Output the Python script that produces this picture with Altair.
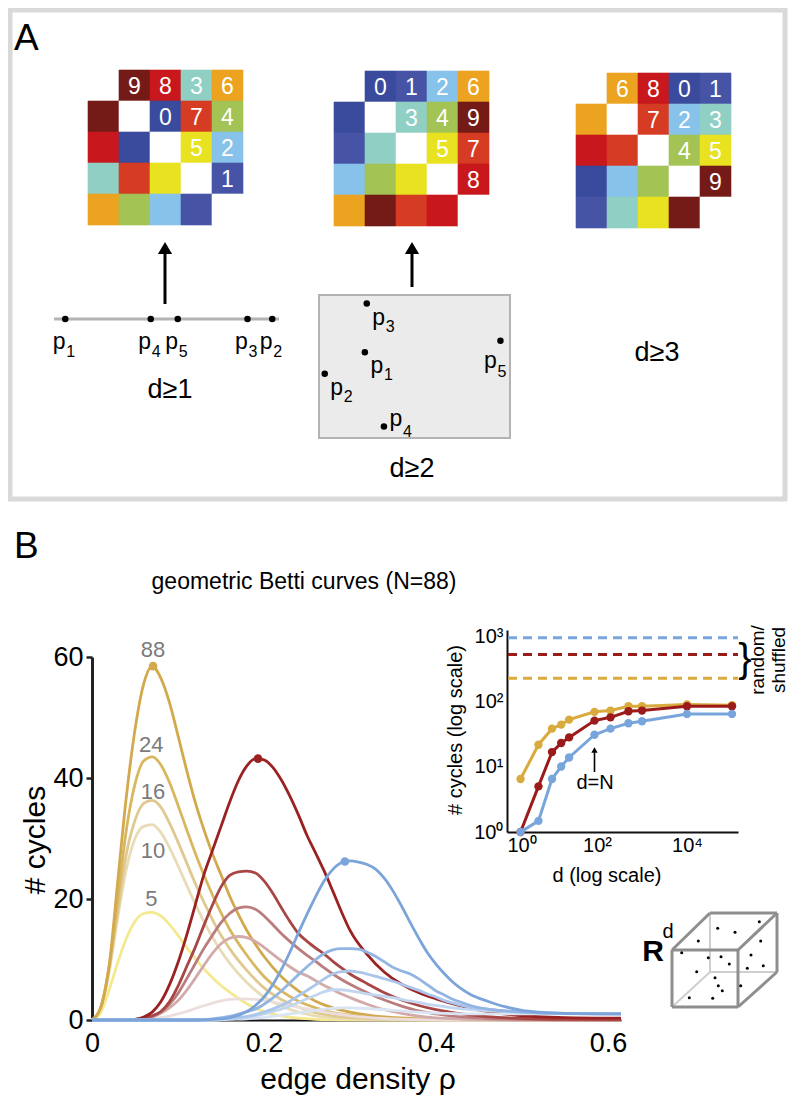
import altair as alt
import pandas as pd

FONT = "Liberation Sans"
OX, OY = 8, 8          # page margin (reference pixel -> canvas pixel)
W, H = 780, 1092

# ======================= DATA =======================
# ---- Panel A : rank-ordered distance matrices of 5 points ----
pair_i = [0, 0, 0, 0, 1, 1, 1, 2, 2, 3]
pair_j = [1, 2, 3, 4, 2, 3, 4, 3, 4, 4]
ranks_d1 = [9, 8, 3, 6, 0, 7, 4, 5, 2, 1]
ranks_d2 = [0, 1, 2, 6, 3, 4, 9, 5, 7, 8]
ranks_d3 = [6, 8, 0, 1, 7, 2, 3, 4, 5, 9]
rank_colors = ["#3a4a9c", "#4754a6", "#86c2ea", "#90cfc4", "#a3c354",
               "#e8e220", "#eca320", "#d63b23", "#c8181d", "#741b17"]

point_ids = ["1", "2", "3", "4", "5"]
line_pos = [0.05, 0.97, 0.86, 0.43, 0.55]     # points on a line (d>=1)
plane_x = [0.24, 0.03, 0.25, 0.34, 0.95]       # points in a plane (d>=2)
plane_y = [0.60, 0.45, 0.94, 0.08, 0.68]

# ---- Panel B : geometric Betti curves (N=88) ----
rho_b1 = [0, .01, .02, .03, .04, .05, .06, .07, .08, .09, .10, .11, .12, .13, .14,
          .15, .16, .18, .20, .22, .24, .26, .28, .30, .35, .40, .50, .615]
b1_d5 = [0, 1.2, 5, 9.5, 13.5, 16.3, 17.6, 17.8, 17.2, 15.8, 14, 12, 10.2, 8.5, 7,
         5.7, 4.6, 2.7, 1.4, 0.7, 0.3, 0.12, 0.05, 0.02, 0, 0, 0, 0]
b1_d10 = [0, 2, 8, 17, 25, 30, 32, 32.3, 31, 28.5, 25.5, 22.3, 19.2, 16.3, 13.7,
          11.4, 9.4, 6.2, 3.8, 2.3, 1.3, 0.7, 0.35, 0.2, 0.05, 0, 0, 0]
b1_d16 = [0, 2, 8.5, 18, 27.5, 33, 35.8, 36.3, 35.2, 32.6, 29.4, 26, 22.6, 19.5, 16.6,
          14, 11.8, 8.2, 5.3, 3.4, 2.1, 1.2, 0.7, 0.4, 0.1, 0.03, 0, 0]
b1_d24 = [0, 2, 9, 20, 31.5, 39, 42.8, 43.5, 42.2, 39.3, 35.5, 31.5, 27.6, 24, 20.7,
          17.7, 15, 10.7, 7.2, 4.8, 3.1, 2, 1.2, 0.8, 0.25, 0.08, 0.01, 0]
rho_b1_88 = [0, .01, .02, .03, .04, .05, .06, .07, .08, .09, .10, .11, .12, .13, .14,
             .15, .16, .17, .18, .20, .22, .24, .26, .28, .30, .34, .40, .50, .615]
b1_d88 = [0, 2, 9, 23, 37, 48, 55.5, 58.5, 56.5, 52.5, 47, 41.3, 36, 31.5, 27.5,
          24, 20.5, 17.5, 14.8, 10.5, 7.2, 4.8, 3.1, 2, 1.3, 0.5, 0.15, 0.02, 0]

rho_b2 = [0, .04, .05, .06, .07, .08, .09, .10, .11, .12, .13, .14, .15, .16, .17, .18,
          .19, .20, .21, .22, .23, .24, .25, .26, .27, .28, .29, .30, .32, .34, .36, .38,
          .40, .43, .46, .50, .55, .615]
b2_d5 = [0, 0, 0, 0.05, 0.15, 0.4, 0.65, 1, 1.4, 1.9, 2.35, 2.8, 3.15, 3.4, 3.5, 3.5,
         3.4, 3.2, 3, 2.7, 2.4, 2.1, 1.85, 1.6, 1.35, 1.1, 0.9, 0.7, 0.45, 0.25, 0.12,
         0.05, 0.02, 0, 0, 0, 0, 0]
b2_d10 = [0, 0, 0.05, 0.2, 0.5, 1.1, 2, 3.2, 4.9, 6.9, 9, 11, 12.6, 13.5, 13.8, 13.6,
          13, 12, 10.9, 9.8, 8.8, 7.9, 7.3, 6.5, 5.7, 5, 4.3, 3.7, 2.6, 1.7, 1.1, 0.65,
          0.35, 0.15, 0.05, 0, 0, 0]
b2_d16 = [0, 0, 0.05, 0.2, 0.6, 1.3, 2.6, 4.4, 6.8, 9.3, 11.8, 14, 16.1, 17.6, 18.5, 18.7,
          18.3, 17.2, 15.8, 14.3, 13, 11.8, 10.7, 9.7, 8.6, 7.6, 6.7, 5.9, 4.5, 3.3, 2.3,
          1.5, 1.0, 0.5, 0.25, 0.1, 0.03, 0]
b2_d24 = [0, 0, 0.1, 0.3, 0.7, 1.4, 3, 5.6, 8.8, 12, 15.6, 19, 22, 23.9, 24.5, 24.6,
          24.3, 23, 21, 18.6, 16.3, 14.3, 13, 11.9, 10.9, 9.7, 8.6, 7.6, 6, 4.5, 3.3,
          2.4, 1.7, 1, 0.55, 0.25, 0.1, 0.05]
b2_d88 = [0, 0, 0.1, 0.5, 1.3, 3, 5.8, 9.5, 14, 19, 24, 28, 32, 36, 39.5, 42, 43.2, 43,
          41.8, 39.7, 37, 33.9, 30.5, 27.6, 24.6, 21.3, 17.9, 14.8, 10.8, 7.9, 5.9, 4.5,
          3.5, 2.3, 1.4, 0.7, 0.4, 0.3]

rho_b3 = [0, .12, .14, .16, .18, .19, .20, .21, .22, .23, .24, .25, .26, .27, .28, .29,
          .30, .31, .32, .33, .34, .35, .36, .37, .38, .39, .40, .41, .42, .43, .44, .46,
          .48, .50, .52, .55, .615]
b3_d5 = [0, 0, 0, 0.1, 0.2, 0.3, 0.45, 0.6, 0.8, 1, 1.2, 1.4, 1.6, 1.8, 1.9, 2, 2, 1.95,
         1.9, 1.8, 1.7, 1.6, 1.5, 1.4, 1.3, 1.2, 1.15, 1.1, 1.05, 1, 1, 1, 1, 1, 1, 1, 1]
b3_d10 = [0, 0, 0, 0.2, 0.4, 0.7, 1, 1.4, 1.8, 2.3, 2.9, 3.5, 4.1, 4.7, 5, 5, 4.8, 4.6,
          4.3, 4.1, 3.9, 3.7, 3.4, 3.1, 2.9, 2.6, 2.4, 2.2, 2, 1.85, 1.7, 1.55, 1.4, 1.25,
          1.15, 1.05, 1.0]
b3_d16 = [0, 0, 0.1, 0.3, 0.6, 0.9, 1.3, 1.8, 2.4, 3.1, 4, 4.9, 5.8, 6.8, 7.6, 8, 8.1,
          7.9, 7.6, 7.2, 6.8, 6.4, 5.9, 5.4, 4.9, 4.3, 3.8, 3.2, 2.8, 2.4, 2.1, 1.8, 1.5,
          1.3, 1.15, 1.05, 1.0]
b3_d24 = [0, 0, 0.2, 0.6, 1.4, 1.8, 2.6, 3.6, 4.8, 6.1, 7.5, 8.8, 10, 11, 11.6, 11.8,
          11.8, 11.7, 11.2, 10.5, 9.6, 8.7, 8.1, 7.6, 6.8, 5.8, 4.8, 4.1, 3.4, 2.9, 2.4,
          1.8, 1.5, 1.3, 1.2, 1.1, 1.0]
b3_d88 = [0, 0, 0.1, 0.4, 1.4, 2.4, 3.8, 5.8, 8.3, 11.2, 14.4, 17.5, 20.4, 23, 24.9, 26,
          26.3, 26.1, 25.7, 24.9, 23.4, 21.3, 18.8, 16.1, 13.5, 11.1, 9.2, 7.6, 6.2, 5.1,
          4.2, 3.1, 2.2, 1.6, 1.3, 1.1, 1.0]

peak_rho = [0.071, 0.193, 0.294]
peak_val = [58.5, 43.2, 26.2]
dim_labels = ["88", "24", "16", "10", "5"]
dim_label_rho = [0.071, 0.069, 0.071, 0.071, 0.069]
dim_label_val = [61.2, 45.5, 37.7, 28.0, 20.0]

# ---- inset : integrated Betti numbers vs dimension ----
dims = [2, 5, 10, 16, 24, 88, 200, 500, 1000, 10000, 100000]
inset_b1 = [6.5, 21.8, 38.4, 44.3, 52.9, 69.5, 72.7, 84.7, 84.7, 90, 87.7]
inset_b2 = [1.0, 5.0, 16.8, 23.1, 28.2, 51, 57.3, 71, 72.7, 84.7, 84.7]
inset_b3 = [1.0, 1.48, 6.5, 10.1, 13.9, 31, 38.4, 46.4, 49.8, 64.6, 64.6]
shuffled_levels = [228, 527, 955]

# ---- styles ----
YEL = ["#f4e98e", "#e8dcb6", "#dfc990", "#d8b75f", "#d2a94c"]
RED = ["#eddede", "#d2aaaa", "#ba7c7c", "#a84646", "#9a2222"]
BLU = ["#dae5f4", "#c2d6f0", "#abc6ea", "#93b5e3", "#7ba4da"]
INSET_COL = ["#d9aa3c", "#9b1b1b", "#78a5dc"]


# ======================= HELPERS =======================
def xs(domain, a, b, **kw):
    return alt.Scale(domain=domain, range=[a - OX, b - OX], **kw)


def ys(domain, a, b, **kw):
    return alt.Scale(domain=domain, range=[a - OY, b - OY], **kw)


CXS = xs([0, 800], 0, 800)      # canvas scales in reference-pixel units
CYS = ys([0, 1110], 0, 1110)


def cx(f="x"):
    return alt.X(f"{f}:Q", scale=CXS, axis=None)


def cy(f="y"):
    return alt.Y(f"{f}:Q", scale=CYS, axis=None)


def texts(rows, align="center", baseline="alphabetic", weight="normal"):
    df = pd.DataFrame(rows, columns=["x", "y", "t", "fs", "col", "ang"])
    return alt.Chart(df).mark_text(align=align, baseline=baseline, font=FONT,
                                   fontWeight=weight).encode(
        x=cx(), y=cy(), text="t:N",
        size=alt.Size("fs:Q", scale=None, legend=None),
        color=alt.Color("col:N", scale=None, legend=None),
        angle=alt.Angle("ang:Q", scale=None, legend=None))


def segs(rows, width, color, dash=None):
    df = pd.DataFrame(rows, columns=["x", "y", "x2", "y2"])
    kw = dict(color=color, strokeWidth=width)
    if dash:
        kw["strokeDash"] = dash
    return alt.Chart(df).mark_rule(**kw).encode(x=cx(), y=cy(), x2="x2:Q", y2="y2:Q")


layers = []

# ======================= PANEL A =======================
frame = pd.DataFrame({"x": [10], "x2": [785], "y": [10], "y2": [499]})
layers.append(alt.Chart(frame).mark_rect(fillOpacity=0, stroke="#d9d9d9", strokeWidth=5)
              .encode(x=cx(), x2="x2:Q", y=cy(), y2="y2:Q"))

MAT_ORIGIN = [(88, 70), (334, 71), (576, 73)]
CELL = 31
cells = []
for ranks, (ox, oy) in zip([ranks_d1, ranks_d2, ranks_d3], MAT_ORIGIN):
    grid = {}
    for i, j, k in zip(pair_i, pair_j, ranks):
        grid[(i, j)] = (k, str(k))
        grid[(j, i)] = (k, "")
    for r in range(5):
        for c in range(5):
            if r == c:
                col, lab = "#ffffff", ""
            else:
                k, lab = grid[(r, c)]
                col = rank_colors[k]
            cells.append({"x": ox + c * CELL, "x2": ox + (c + 1) * CELL,
                          "y": oy + r * CELL, "y2": oy + (r + 1) * CELL,
                          "cx": ox + (c + 0.5) * CELL, "cy": oy + (r + 0.5) * CELL + 1,
                          "col": col, "lab": lab})
cells = pd.DataFrame(cells)
layers.append(alt.Chart(cells).mark_rect(strokeWidth=0.6).encode(
    x=cx(), x2="x2:Q", y=cy(), y2="y2:Q",
    color=alt.Color("col:N", scale=None), stroke=alt.Stroke("col:N", scale=None)))
layers.append(alt.Chart(cells).transform_filter("datum.lab != ''").mark_text(
    font=FONT, fontSize=23, color="white", baseline="middle").encode(
    x=cx("cx"), y=cy("cy"), text="lab:N"))

# arrows (point set -> matrix)
layers.append(segs([(165, 304, 165, 252), (412, 287, 412, 252)], 3, "black"))
layers.append(alt.Chart(pd.DataFrame({"x": [165, 412], "y": [248, 248]})).mark_point(
    shape="triangle-up", filled=True, size=200, color="black", opacity=1).encode(x=cx(), y=cy()))

# d >= 1 : points on a line
layers.append(segs([(54, 319, 279, 319)], 3, "#b4b4b4"))
LX = xs([0, 1], 54, 279)
pts1 = pd.DataFrame({"u": line_pos, "id": point_ids})
layers.append(alt.Chart(pts1).mark_circle(size=42, color="black", opacity=1).encode(
    x=alt.X("u:Q", scale=LX, axis=None), y=alt.value(319 - OY)))
layers.append(alt.Chart(pts1).mark_text(text="p", font=FONT, fontSize=23, dx=-6).encode(
    x=alt.X("u:Q", scale=LX, axis=None), y=alt.value(342 - OY)))
layers.append(alt.Chart(pts1).mark_text(font=FONT, fontSize=16, dx=5.5).encode(
    x=alt.X("u:Q", scale=LX, axis=None), y=alt.value(352 - OY), text="id:N"))

# d >= 2 : points in a plane
layers.append(alt.Chart(pd.DataFrame({"x": [319], "x2": [510], "y": [295], "y2": [438]}))
              .mark_rect(fill="#ebebeb", stroke="#b3b3b3", strokeWidth=2)
              .encode(x=cx(), x2="x2:Q", y=cy(), y2="y2:Q"))
PX = xs([0, 1], 319, 510)
PY = ys([0, 1], 438, 295)
pts2 = pd.DataFrame({"u": plane_x, "v": plane_y, "id": point_ids})
layers.append(alt.Chart(pts2).mark_circle(size=42, color="black", opacity=1).encode(
    x=alt.X("u:Q", scale=PX, axis=None), y=alt.Y("v:Q", scale=PY, axis=None)))
# label placement groups: (ids, p offset, subscript offset)
for ids, (pdx, pdy), (sdx, sdy) in [(["1", "2", "3"], (12, 14), (23.5, 23)),
                                    (["4"], (12, -8), (23.5, 5)),
                                    (["5"], (-10, 20), (1.5, 31))]:
    sub = pts2[pts2["id"].isin(ids)]
    layers.append(alt.Chart(sub).mark_text(text="p", font=FONT, fontSize=23, dx=pdx, dy=pdy).encode(
        x=alt.X("u:Q", scale=PX, axis=None), y=alt.Y("v:Q", scale=PY, axis=None)))
    layers.append(alt.Chart(sub).mark_text(font=FONT, fontSize=16, dx=sdx, dy=sdy).encode(
        x=alt.X("u:Q", scale=PX, axis=None), y=alt.Y("v:Q", scale=PY, axis=None), text="id:N"))

# ======================= PANEL B : main =======================
MXS = xs([0, 0.615], 92, 621)
MYS = ys([0, 60], 1020, 657)


def curve(r, v, color):
    return alt.Chart(pd.DataFrame({"rho": r, "v": v})).mark_line(
        color=color, strokeWidth=2.8, interpolate="monotone").encode(
        x=alt.X("rho:Q", scale=MXS, axis=None), y=alt.Y("v:Q", scale=MYS, axis=None))


for r, v, c in [(rho_b1, b1_d5, YEL[0]), (rho_b1, b1_d10, YEL[1]), (rho_b1, b1_d16, YEL[2]),
                (rho_b1, b1_d24, YEL[3]), (rho_b1_88, b1_d88, YEL[4]),
                (rho_b2, b2_d5, RED[0]), (rho_b2, b2_d10, RED[1]), (rho_b2, b2_d16, RED[2]),
                (rho_b2, b2_d24, RED[3]), (rho_b2, b2_d88, RED[4]),
                (rho_b3, b3_d5, BLU[0]), (rho_b3, b3_d10, BLU[1]), (rho_b3, b3_d16, BLU[2]),
                (rho_b3, b3_d24, BLU[3]), (rho_b3, b3_d88, BLU[4])]:
    layers.append(curve(r, v, c))

peaks = pd.DataFrame({"rho": peak_rho, "v": peak_val, "col": [YEL[4], RED[4], BLU[4]]})
layers.append(alt.Chart(peaks).mark_circle(size=75, opacity=1).encode(
    x=alt.X("rho:Q", scale=MXS, axis=alt.Axis(
        orient="bottom", offset=(1020 - OY) - H, values=[0, 0.2, 0.4, 0.6], format="~g",
        labelFontSize=27, labelPadding=10, ticks=False, domainWidth=2, domainColor="#111",
        labelFlush=False, title=None, grid=False)),
    y=alt.Y("v:Q", scale=MYS, axis=alt.Axis(
        orient="left", offset=-(92 - OX), values=[0, 20, 40, 60], labelFontSize=27,
        labelPadding=3, tickSize=6, tickWidth=2.5, tickColor="#222", domainWidth=3,
        domainColor="#222", title=None, grid=False)),
    color=alt.Color("col:N", scale=None)))

dl = pd.DataFrame({"rho": dim_label_rho, "v": dim_label_val, "t": dim_labels})
layers.append(alt.Chart(dl).mark_text(font=FONT, fontSize=22, color="#7b7b7b", baseline="middle").encode(
    x=alt.X("rho:Q", scale=MXS, axis=None), y=alt.Y("v:Q", scale=MYS, axis=None), text="t:N"))

# ======================= PANEL B : inset =======================
IXS = xs([1, 136000], 507, 738, type="log")
IYS = ys([1, 1250], 832, 630, type="log")
POW = "'10' + ['⁰','¹','²','³','⁴','⁵'][round(log(datum.value)/LN10)]"

sh = pd.DataFrame({"v": shuffled_levels, "col": [INSET_COL[0], INSET_COL[1], INSET_COL[2]]})
layers.append(alt.Chart(sh).mark_rule(strokeWidth=3, strokeDash=[9, 6]).encode(
    y=alt.Y("v:Q", scale=IYS, axis=None), x=alt.value(508 - OX), x2=alt.value(738 - OX),
    color=alt.Color("col:N", scale=None)))

for k, (series, col) in enumerate(zip([inset_b1, inset_b2, inset_b3], INSET_COL)):
    df = pd.DataFrame({"d": dims, "v": series})
    layers.append(alt.Chart(df).mark_line(color=col, strokeWidth=3).encode(
        x=alt.X("d:Q", scale=IXS, axis=None), y=alt.Y("v:Q", scale=IYS, axis=None)))
    if k == 0:
        xax = alt.Axis(orient="bottom", offset=(832 - OY) - H, values=[1, 100, 10000],
                       labelExpr=POW, labelFontSize=20, labelPadding=3, ticks=False,
                       domainWidth=2, domainColor="#111", title=None, grid=False)
        yax = alt.Axis(orient="left", offset=-(507 - OX), values=[1, 10, 100, 1000],
                       labelExpr=POW, labelFontSize=20, labelPadding=4, ticks=False,
                       domainWidth=2, domainColor="#111", title=None, grid=False)
    else:
        xax, yax = None, None
    layers.append(alt.Chart(df).mark_circle(color=col, size=70, opacity=1).encode(
        x=alt.X("d:Q", scale=IXS, axis=xax), y=alt.Y("v:Q", scale=IYS, axis=yax)))

# d = N arrow
dn = pd.DataFrame({"d": [88], "y": [772], "y2": [752], "ya": [750]})
layers.append(alt.Chart(dn).mark_rule(color="black", strokeWidth=1.6).encode(
    x=alt.X("d:Q", scale=IXS, axis=None), y=cy(), y2="y2:Q"))
layers.append(alt.Chart(dn).mark_point(shape="triangle-up", filled=True, size=40,
                                       color="black", opacity=1).encode(
    x=alt.X("d:Q", scale=IXS, axis=None), y=cy("ya")))

# ======================= cube R^d =======================
C = {"FTL": (672, 950), "FTR": (738, 950), "FBL": (672, 1007), "FBR": (738, 1007),
     "BTL": (710, 913), "BTR": (777, 913), "BBL": (710, 972), "BBR": (777, 972)}
hidden_edges = [("BTL", "BBL"), ("BBL", "BBR"), ("BBL", "FBL")]
visible_edges = [("FTL", "FTR"), ("FTR", "FBR"), ("FBR", "FBL"), ("FBL", "FTL"),
                 ("FTL", "BTL"), ("BTL", "BTR"), ("BTR", "FTR"), ("BTR", "BBR"), ("BBR", "FBR")]
layers.append(segs([C[a] + C[b] for a, b in hidden_edges], 2, "#cfcfcf"))
layers.append(segs([C[a] + C[b] for a, b in visible_edges], 3, "#8e8e8e"))
cube_dot_x = [717.7, 735, 759.3, 698.3, 760.7, 681.7, 708.3, 721, 729.3, 751, 747.3, 763.3,
              696.7, 715, 718.3, 722.3, 740.7, 689.3, 712.7]
cube_dot_y = [928.3, 932.3, 921.7, 941, 941, 952.7, 957.7, 956.7, 964, 955, 968.3, 965.7,
              971.7, 977.7, 985.7, 990.7, 985.7, 997.7, 998.3]
layers.append(alt.Chart(pd.DataFrame({"x": cube_dot_x, "y": cube_dot_y})).mark_circle(
    size=9, color="black", opacity=1).encode(x=cx(), y=cy()))

# ======================= TEXT =======================
K = "black"
layers.append(texts([(14, 50, "A", 37, K, 0), (14, 558, "B", 37, K, 0)], align="left"))
layers.append(texts([
    (170, 398, "d≥1", 27, K, 0), (412, 477, "d≥2", 27, K, 0), (657, 361, "d≥3", 27, K, 0),
    (304, 589, "geometric Betti curves (N=88)", 23, K, 0),
    (358, 1089, "edge density ρ", 30, K, 0),
    (607, 882, "d (log scale)", 20, K, 0),
    (595, 789, "d=N", 20, K, 0),
    (668, 938, "d", 20, K, 0),
]))
layers.append(texts([(653, 961, "R", 30, K, 0)], weight="bold"))
layers.append(texts([
    (36, 840, "# cycles", 30, K, 270),
    (456, 730, "# cycles (log scale)", 20, K, 270),
    (758, 660, "random/", 19, K, 270),
    (779, 660, "shuffled", 19, K, 270),
    (745, 660, "}", 40, K, 0),
], baseline="middle"))

chart = alt.layer(*layers).resolve_scale(x="independent", y="independent").properties(
    width=W, height=H, autosize=alt.AutoSizeParams(type="none"), padding=0
).configure_view(strokeWidth=0).configure_axis(
    labelFont=FONT, titleFont=FONT, labelColor="black")

chart.save("out.html", embed_options={"renderer": "svg", "actions": False})
